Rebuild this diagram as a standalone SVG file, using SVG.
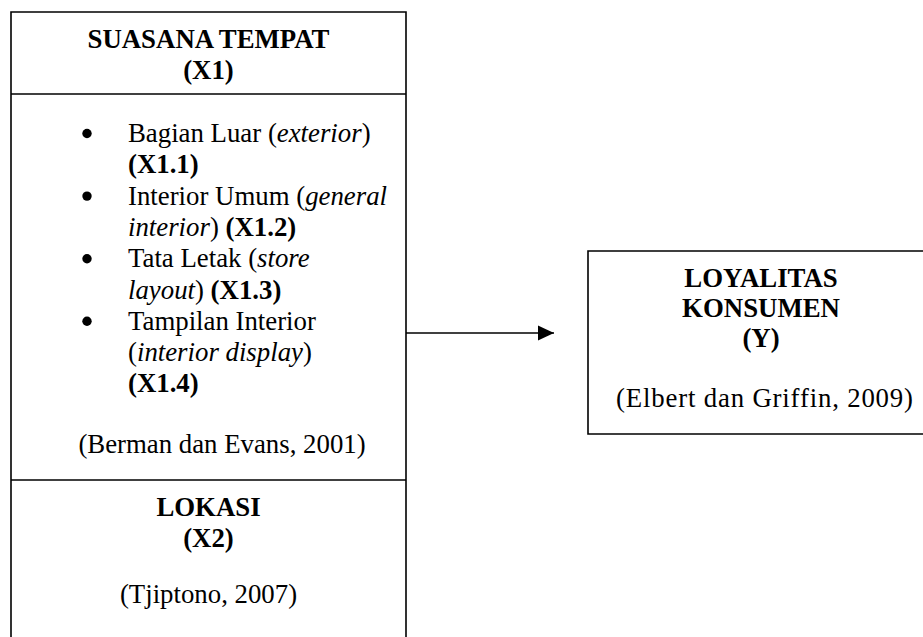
<svg xmlns="http://www.w3.org/2000/svg" width="923" height="637" viewBox="0 0 923 637">
<style>
text{font-family:"Liberation Serif","Times New Roman",serif;font-size:26.8px;fill:#000}
.b{font-weight:bold}
.i{font-style:italic}
.c{text-anchor:middle}
.ln{stroke:#000;stroke-width:1.6;fill:none}
</style>
<defs>
<marker id="ah" markerWidth="16" markerHeight="16" refX="16" refY="8" orient="auto" markerUnits="userSpaceOnUse">
<path d="M0,0.5 L16,8 L0,15.5 Z" fill="#000"/>
</marker>
</defs>
<rect width="923" height="637" fill="#fff"/>
<g id="x1">
<path class="ln" d="M11,640 V12 H406 V640"/>
<path class="ln" d="M11,94 H406"/>
<text class="b c" x="208.5" y="48">SUASANA TEMPAT</text>
<text class="b c" x="208.5" y="78.5">(X1)</text>
<circle cx="87" cy="133.5" r="4.7"/>
<text x="128" y="142">Bagian Luar (<tspan class="i">exterior</tspan>)</text>
<text class="b" x="128" y="173.3">(X1.1)</text>
<circle cx="87" cy="196.1" r="4.7"/>
<text x="128" y="204.6">Interior Umum (<tspan class="i">general</tspan></text>
<text x="128" y="235.9"><tspan class="i">interior</tspan>) <tspan class="b">(X1.2)</tspan></text>
<circle cx="87" cy="258.7" r="4.7"/>
<text x="128" y="267.2">Tata Letak (<tspan class="i">store</tspan></text>
<text x="128" y="298.5"><tspan class="i">layout</tspan>) <tspan class="b">(X1.3)</tspan></text>
<circle cx="87" cy="321.3" r="4.7"/>
<text x="128" y="329.8">Tampilan Interior</text>
<text x="128" y="361.1">(<tspan class="i">interior display</tspan>)</text>
<text class="b" x="128" y="392.4">(X1.4)</text>
<text class="c" x="222" y="453">(Berman dan Evans, 2001)</text>
</g>
<g id="x2">
<path class="ln" d="M11,480 H406"/>
<text class="b c" x="208.5" y="516">LOKASI</text>
<text class="b c" x="208.5" y="547">(X2)</text>
<text class="c" x="208.5" y="603">(Tjiptono, 2007)</text>
</g>
<g id="y">
<path class="ln" d="M940,251 H588 V434 H940"/>
<text class="b c" x="761" y="287">LOYALITAS</text>
<text class="b c" x="761" y="317">KONSUMEN</text>
<text class="b c" x="761" y="347">(Y)</text>
<text class="c" x="764.5" y="407" textLength="297" lengthAdjust="spacing">(Elbert dan Griffin, 2009)</text>
</g>
<g id="connectors">
<line class="ln" x1="406" y1="333" x2="554" y2="333" marker-end="url(#ah)"/>
</g>
</svg>
